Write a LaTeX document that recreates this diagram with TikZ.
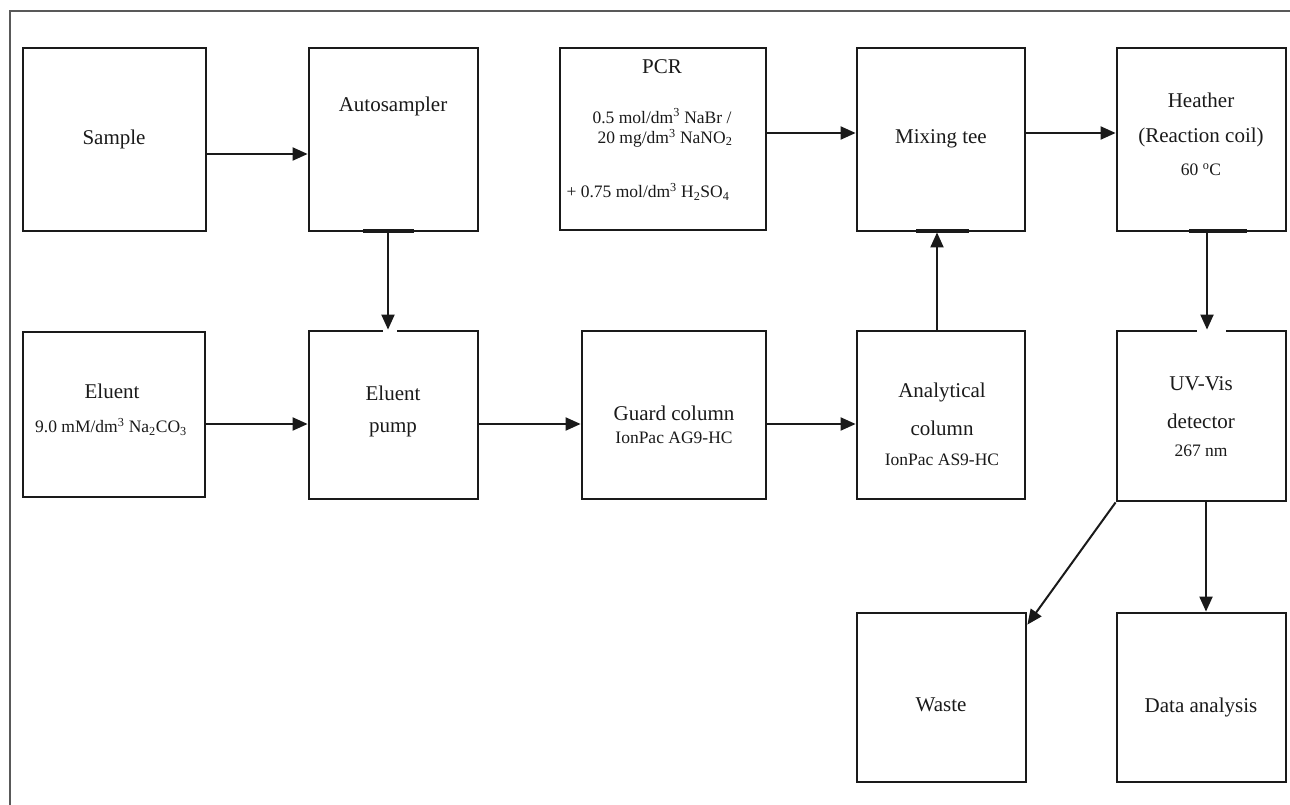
\documentclass[tikz,border=0pt]{standalone}
\usepackage{fontspec}
\setmainfont{Liberation Serif}
\usetikzlibrary{arrows.meta,calc}
\definecolor{ink}{HTML}{1A1A1A}
\begin{document}
\begin{tikzpicture}[x=1pt,y=-1pt,
  box/.style={draw=ink, line width=2.8pt, inner sep=0pt},
  arr/.style={draw=ink, line width=2pt, -{Triangle[length=15pt,width=13pt]}},
  maintxt/.style={font=\fontsize{21}{25}\selectfont, text=ink, inner sep=0pt},
  subtxt/.style={font=\fontsize{17.5}{21}\selectfont, text=ink, inner sep=0pt},
  thickseg/.style={draw=ink, line width=4.5pt},
  gapseg/.style={draw=white, line width=3.5pt}]
\useasboundingbox (0,0) rectangle (1290,805);
\fill[white] (0,0) rectangle (1290,805);
% outer frame
\draw[gray!70!black, line width=1.2pt] (10,805) -- (10,11) -- (1290,11);

% boxes row 1
\node[box, minimum width=183pt, minimum height=183pt] (sample) at (114.5,139.5) {};
\node[box, minimum width=169pt, minimum height=183pt] (auto) at (393.5,139.5) {};
\node[box, minimum width=206pt, minimum height=182pt] (pcr) at (663,139) {};
\node[box, minimum width=168pt, minimum height=183pt] (mix) at (941,139.5) {};
\node[box, minimum width=169pt, minimum height=183pt] (heat) at (1201.5,139.5) {};
% boxes row 2
\node[box, minimum width=182pt, minimum height=165pt] (eluent) at (114,414.5) {};
\node[box, minimum width=169pt, minimum height=168pt] (pump) at (393.5,415) {};
\node[box, minimum width=184pt, minimum height=168pt] (guard) at (674,415) {};
\node[box, minimum width=168pt, minimum height=168pt] (anal) at (941,415) {};
\node[box, minimum width=169pt, minimum height=170pt] (uv) at (1201.5,416) {};
% boxes row 3
\node[box, minimum width=169pt, minimum height=169pt] (waste) at (941.5,697.5) {};
\node[box, minimum width=169pt, minimum height=169pt] (data) at (1201.5,697.5) {};

% small border details
\draw[thickseg] (363,231) -- (414,231);
\draw[thickseg] (916,231) -- (969,231);
\draw[thickseg] (1189,231) -- (1247,231);
\draw[gapseg] (383,331) -- (397,331);
\draw[gapseg] (1197,331) -- (1226,331);

% texts
\node[maintxt] (tsample) at (114,139) {Sample};
\node[maintxt] (tauto) at (393,106) {Autosampler};
\node[maintxt] (tpcr) at (662,67) {PCR};
\node[subtxt] (tpcr1) at (662,116) {0.5 mol/dm\textsuperscript{3} NaBr /};
\node[subtxt] (tpcr2) at (665,138) {20 mg/dm\textsuperscript{3} NaNO\textsubscript{2}};
\node[subtxt] (tpcr3) at (648,192) {+ 0.75 mol/dm\textsuperscript{3} H\textsubscript{2}SO\textsubscript{4}};
\node[maintxt] (tmix) at (941,139) {Mixing tee};
\node[maintxt] (theat1) at (1201,100) {Heather};
\node[maintxt] (theat2) at (1201,137) {(Reaction coil)};
\node[subtxt] (theat3) at (1201,170) {60 \textsuperscript{o}C};

\node[maintxt] (telu1) at (112,391) {Eluent};
\node[subtxt] (telu2) at (111,427) {9.0 mM/dm\textsuperscript{3} Na\textsubscript{2}CO\textsubscript{3}};
\node[maintxt] (tpump1) at (393,393) {Eluent};
\node[maintxt] (tpump2) at (393,430) {pump};
\node[maintxt] (tguard1) at (674,413) {Guard column};
\node[subtxt] (tguard2) at (674,438) {IonPac AG9-HC};
\node[maintxt] (tanal1) at (942,392) {Analytical};
\node[maintxt] (tanal2) at (942,428) {column};
\node[subtxt] (tanal3) at (942,460) {IonPac AS9-HC};
\node[maintxt] (tuv1) at (1201,384) {UV-Vis};
\node[maintxt] (tuv2) at (1201,421) {detector};
\node[subtxt] (tuv3) at (1201,451) {267 nm};
\node[maintxt] (twaste) at (941,705) {Waste};
\node[maintxt] (tdata) at (1201,707) {Data analysis};

% connectors
\draw[arr] (sample.east |- 0,154) -- (auto.west |- 0,154);
\draw[arr] (pcr.east |- 0,133) -- (mix.west |- 0,133);
\draw[arr] (mix.east |- 0,133) -- (heat.west |- 0,133);
\draw[arr] (388,0 |- auto.south) -- (388,0 |- pump.north);
\draw[arr] (937,0 |- anal.north) -- (937,0 |- mix.south);
\draw[arr] (1207,0 |- heat.south) -- (1207,0 |- uv.north);
\draw[arr] (eluent.east |- 0,424) -- (pump.west |- 0,424);
\draw[arr] (pump.east |- 0,424) -- (guard.west |- 0,424);
\draw[arr] (guard.east |- 0,424) -- (anal.west |- 0,424);
\draw[arr] (uv.south west) -- ([yshift=-13pt]waste.north east);
\draw[arr] (1206,0 |- uv.south) -- (1206,0 |- data.north);
\end{tikzpicture}
\end{document}
